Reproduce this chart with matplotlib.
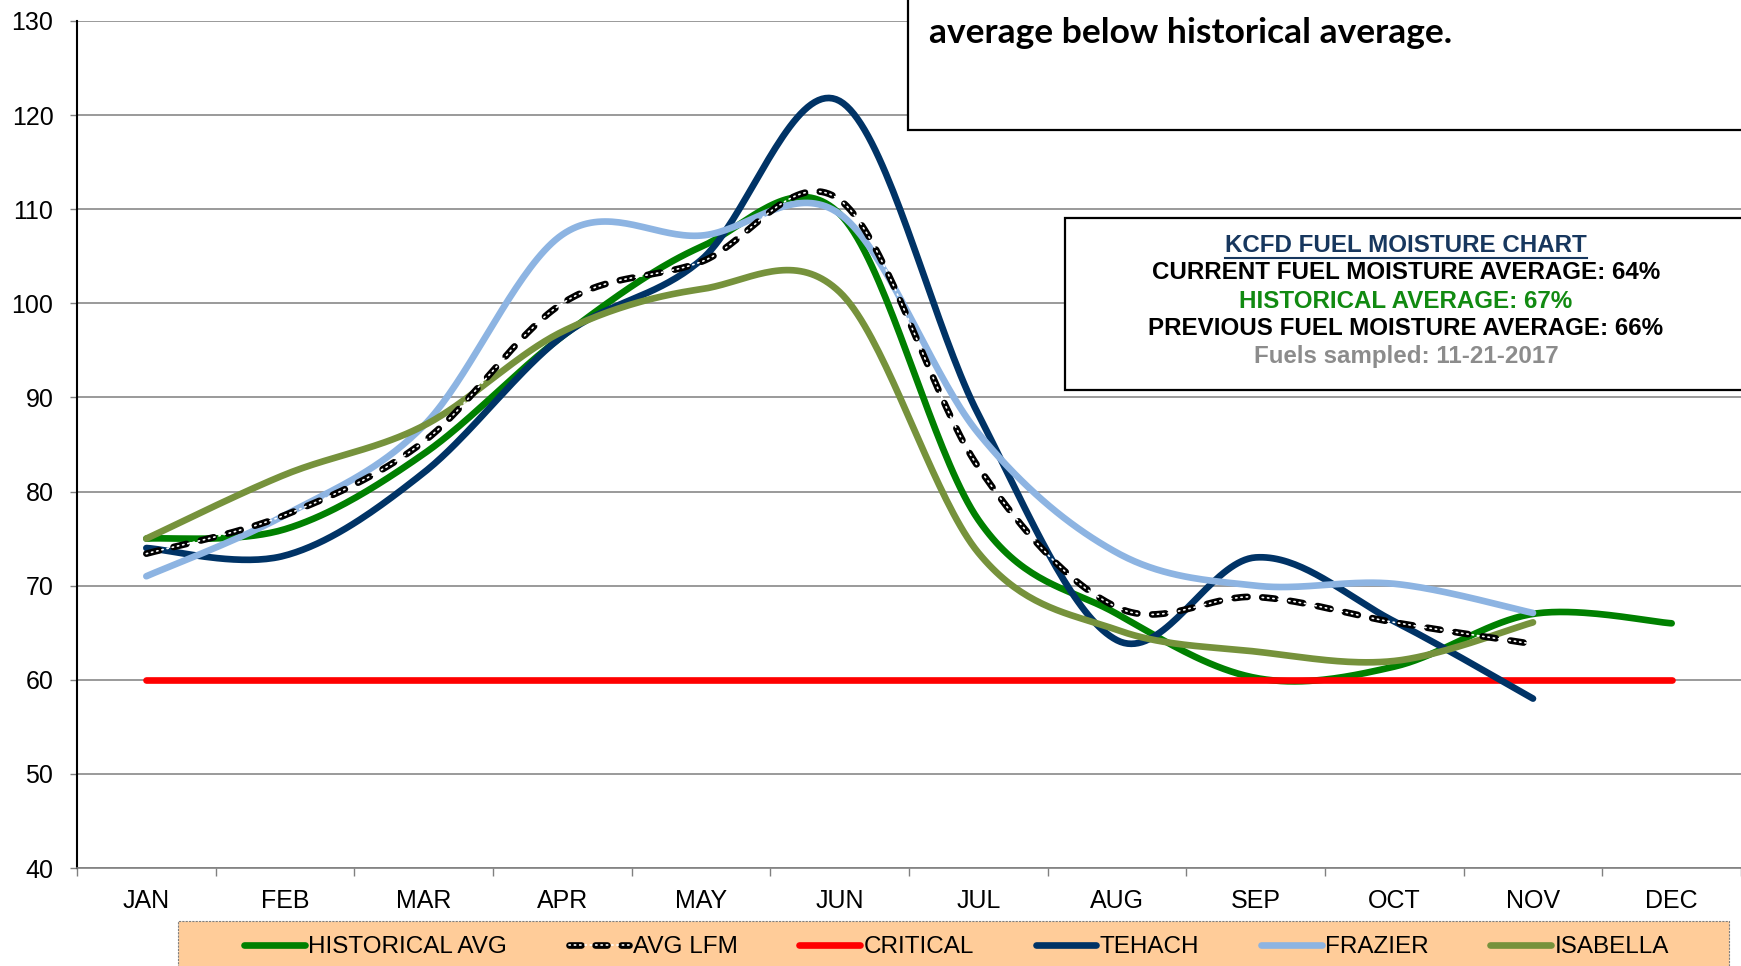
import numpy as np
import matplotlib
matplotlib.use("Agg")
import matplotlib.pyplot as plt
from matplotlib.lines import Line2D
from matplotlib.patches import Rectangle

# data
months = ["JAN", "FEB", "MAR", "APR", "MAY", "JUN", "JUL", "AUG", "SEP", "OCT", "NOV", "DEC"]
historical = [75, 76, 84, 96.5, 106, 109.5, 77, 67, 60.2, 61.4, 67, 66]
avg_lfm = [73.4, 77.5, 85.3, 100, 104.4, 111, 82.6, 67.7, 68.8, 66.1, 63.8]
critical = [60] * 12
tehach = [74, 73.2, 82, 96.5, 104.6, 121.5, 88.2, 64.2, 73, 66.2, 58]
frazier = [71, 77.5, 87, 107.3, 107.2, 109.5, 86.2, 73.5, 70, 70.2, 67.1]
isabella = [75, 81.8, 87, 97, 101.5, 101.2, 73.5, 65.3, 63, 62, 66.1]

plt.rcParams['font.family'] = ['Liberation Sans', 'DejaVu Sans']


def excel_smooth(vals, n=40):
    # bezier smoothing like excel's "smoothed line"
    pts = np.column_stack([np.arange(len(vals)), vals]).astype(float)
    out = []
    t = np.linspace(0, 1, n)[:, None]
    for i in range(len(pts) - 1):
        p0, p3 = pts[i], pts[i + 1]
        pm = pts[i - 1] if i > 0 else pts[i]
        pp = pts[i + 2] if i + 2 < len(pts) else pts[i + 1]
        p1 = p0 + (p3 - pm) / 6
        p2 = p3 - (pp - p0) / 6
        seg = (1 - t) ** 3 * p0 + 3 * (1 - t) ** 2 * t * p1 + 3 * (1 - t) * t ** 2 * p2 + t ** 3 * p3
        out.append(seg if i == 0 else seg[1:])
    c = np.vstack(out)
    return c[:, 0], c[:, 1]


fig = plt.figure(figsize=(17.41, 9.66), dpi=100)
ax = fig.add_axes([77 / 1741, 1 - 868 / 966, 1 - 77 / 1741, (868 - 21) / 966])

lw = 4.8
avg_dash = (0, (2.0, 2.2))
dot_style = (0, (0.8, 2.4))
cols = {"hist": "#008000", "crit": "#FF0000", "teh": "#003366",
        "fra": "#8DB4E2", "isa": "#76923C"}

x, y = excel_smooth(historical)
ax.plot(x, y, color=cols["hist"], lw=lw, solid_capstyle="round", zorder=3)
ax.plot(range(12), critical, color=cols["crit"], lw=lw, solid_capstyle="round", zorder=3.1)
x, y = excel_smooth(tehach)
ax.plot(x, y, color=cols["teh"], lw=lw, solid_capstyle="round", zorder=3.2)
x, y = excel_smooth(frazier)
ax.plot(x, y, color=cols["fra"], lw=lw, solid_capstyle="round", zorder=3.3)
x, y = excel_smooth(isabella)
ax.plot(x, y, color=cols["isa"], lw=lw, solid_capstyle="round", zorder=3.4)
x, y = excel_smooth(avg_lfm)
ax.plot(x, y, color="black", lw=lw, linestyle=avg_dash, dash_capstyle="round", zorder=3.5)
ax.plot(x, y, color="white", lw=1.2, linestyle=dot_style, dash_capstyle="round", zorder=3.6)

ax.set_xlim(-0.5, 11.5)
ax.set_ylim(40, 130)
ax.set_yticks(range(40, 131, 10))
ax.set_xticks(range(12))
ax.set_xticklabels(months)
ax.set_xticks(np.arange(-0.5, 12, 1), minor=True)
ax.tick_params(axis="x", which="major", length=0, pad=15, labelsize=18)
ax.tick_params(axis="x", which="minor", length=6, width=1, color="#808080")
ax.tick_params(axis="y", length=5, width=1, color="#808080", pad=12, labelsize=18)
ax.grid(axis="y", color="#7f7f7f", lw=1.1, zorder=1)
ax.set_axisbelow(True)
for s in ["top", "right"]:
    ax.spines[s].set_visible(False)
ax.spines["left"].set_color("black")
ax.spines["left"].set_linewidth(1.5)
ax.spines["bottom"].set_color("#808080")
ax.spines["bottom"].set_linewidth(1.2)

# top note box (cut off by the figure edge)
fig.add_artist(Rectangle((908 / 1741, 1 - 130 / 966), 0.6, 0.3, transform=fig.transFigure,
                         facecolor="white", edgecolor="black", lw=1.6, zorder=5))
fig.text(929 / 1741, 1 - 33 / 966, "average below historical average.", family="Lato",
         weight="bold", fontsize=25.5, va="center", ha="left", zorder=6)

# info box
fig.add_artist(Rectangle((1065 / 1741, 1 - 390 / 966), 0.6, (390 - 218) / 966, transform=fig.transFigure,
                         facecolor="white", edgecolor="black", lw=1.6, zorder=5))
cx = 1406 / 1741
fs = 17.4
title = fig.text(cx, 1 - 245 / 966, "KCFD FUEL MOISTURE CHART", color="#17375E", weight="bold",
                 fontsize=fs, ha="center", va="center", zorder=6)
fig.text(cx, 1 - 273 / 966, "CURRENT FUEL MOISTURE AVERAGE: 64%", color="black", weight="bold",
         fontsize=fs, ha="center", va="center", zorder=6)
fig.text(cx, 1 - 301 / 966, "HISTORICAL AVERAGE: 67%", color="#118A11", weight="bold",
         fontsize=fs, ha="center", va="center", zorder=6)
fig.text(cx, 1 - 328.5 / 966, "PREVIOUS FUEL MOISTURE AVERAGE: 66%", color="black", weight="bold",
         fontsize=fs, ha="center", va="center", zorder=6)
fig.text(cx, 1 - 356 / 966, "Fuels sampled: 11-21-2017", color="#8C8C8C", weight="bold",
         fontsize=fs, ha="center", va="center", zorder=6)

# underline the title
fig.canvas.draw()
bb = title.get_window_extent().transformed(fig.transFigure.inverted())
fig.add_artist(Line2D([bb.x0, bb.x1], [bb.y0 - 0.002, bb.y0 - 0.002], transform=fig.transFigure,
                      color="#17375E", lw=1.5, zorder=6))

# legend strip
fig.add_artist(Rectangle((178 / 1741, -0.02), (1729 - 178) / 1741, 0.02 + 45 / 966,
                         transform=fig.transFigure, facecolor="#FFCC99", edgecolor="#7f7f7f",
                         lw=0.8, linestyle=(0, (2, 1)), zorder=5))
h_hist = Line2D([], [], color=cols["hist"], lw=lw, solid_capstyle="round")
h_avg = (Line2D([], [], color="black", lw=lw, linestyle=(0, (1.8, 2.1)), dash_capstyle="round"),
         Line2D([], [], color="white", lw=1.2, linestyle=dot_style, dash_capstyle="round"))
h_crit = Line2D([], [], color=cols["crit"], lw=lw, solid_capstyle="round")
h_teh = Line2D([], [], color=cols["teh"], lw=lw, solid_capstyle="round")
h_fra = Line2D([], [], color=cols["fra"], lw=lw, solid_capstyle="round")
h_isa = Line2D([], [], color=cols["isa"], lw=lw, solid_capstyle="round")
leg = fig.legend([h_hist, h_avg, h_crit, h_teh, h_fra, h_isa],
                 ["HISTORICAL AVG", "AVG LFM", "CRITICAL", "TEHACH", "FRAZIER", "ISABELLA"],
                 ncol=6, mode="expand", frameon=False, fontsize=17.5,
                 bbox_to_anchor=(244 / 1741, 1 - 947 / 966 - 0.01, (1669 - 244) / 1741, 0.02),
                 loc="center", borderpad=0, borderaxespad=0, handlelength=2.5, handletextpad=0.15)
leg.set_zorder(7)

fig.savefig("out.png", dpi=100)
